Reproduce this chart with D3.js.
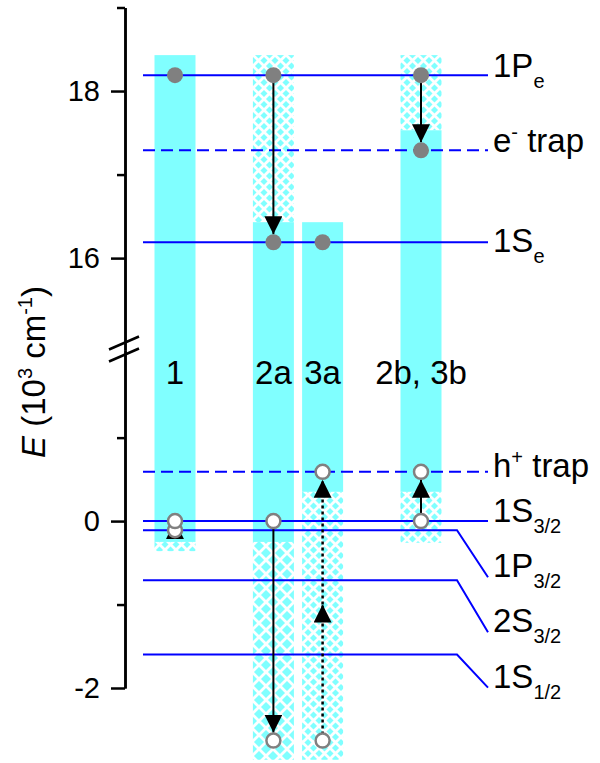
<!DOCTYPE html>
<html>
<head>
<meta charset="utf-8">
<title>levels</title>
<style>
  body { margin: 0; background: #fff; }
  svg text { font-family: "Liberation Sans", Arial, sans-serif; fill: black; }
  .axis path, .axis line { fill: none; stroke: black; stroke-width: 2.5; }
  .axis text { font-size: 29px; }
</style>
</head>
<body>
<script src="https://cdn.jsdelivr.net/npm/d3@7/dist/d3.min.js"></script>
<script>
// energy levels, 10^3 cm^-1  ("_" = subscript, "^" = superscript)
var levelNames = ["1P_e", "e^- trap", "1S_e", "h^+ trap", "1S_3/2", "1P_3/2", "2S_3/2", "1S_1/2"];
var levelValues = [18.19, 17.29, 16.19, 0.59, 0, -0.11, -0.71, -1.60];
var trapLevels = ["e^- trap", "h^+ trap"];

var columnLabels = ["1", "2a", "3a", "2b, 3b"];
var columnSlots = [0, 2, 3, 5];

// bar pieces per column
var barCols    = [0, 0, 1, 1, 1, 2, 2, 3, 3, 3];
var barTops    = [18.43, -0.25, 18.43, 16.43, -0.25, 16.43, 0.35, 18.43, 17.53, 0.35];
var barBottoms = [-0.25, -0.36, 16.43, -0.25, -2.86, 0.35, -2.86, 17.53, 0.35, -0.26];
var barKinds   = ["solid", "hatch", "hatch", "solid", "hatchWide", "solid", "hatch", "hatch", "solid", "hatch"];

var electronCols = [0, 1, 1, 2, 3, 3];
var electronValues = [18.19, 18.19, 16.19, 16.19, 18.19, 17.29];
var holeCols = [0, 0, 1, 1, 2, 2, 3, 3];
var holeValues = [-0.11, 0, 0, -2.63, 0.59, -2.63, 0.59, 0];

var arrowCols = [1, 3, 1, 2, 2, 3, 0];
var arrowFrom = [18.19, 18.19, 0, -2.63, -1.0, 0, -0.11];
var arrowTo   = [16.19, 17.29, -2.63, -1.0, 0.59, 0.59, 0];
var arrowDotted = [false, false, false, true, true, false, false];

var upperMajor = [16, 18], upperMinor = [17, 19];
var lowerMajor = [-2, 0], lowerMinor = [-1, 1];

// layout
var width = 600, height = 763;
var cyan = "#80ffff", blue = "#0000ff", grey = "#808080";
var lineX0 = 143, lineX1 = 488, bendX = 457, labelX = 493;
var labelDy = [2, 2, 10, 5, 1, 47, 52, 33];
var arrowGap = [8, 8, 8, 0, 8, 8, 0];

var svg = d3.select("body").append("svg")
  .attr("width", width).attr("height", height);

var yUp = d3.scaleLinear().domain([14.9, 19]).range([350, 7.5]);
var yLo = d3.scaleLinear().domain([-2, 2.05]).range([688, 350]);
function y(v) { return v > 8 ? yUp(v) : yLo(v); }
var x = d3.scaleLinear().domain([0, 5]).range([175, 421]);
var barW = 41;

var defs = svg.append("defs");
function hatch(id, p) {
  var pat = defs.append("pattern").attr("id", id)
    .attr("patternUnits", "userSpaceOnUse").attr("width", p).attr("height", p);
  pat.append("rect").attr("width", p).attr("height", p).attr("fill", cyan);
  pat.append("path")
    .attr("d", "M0,0L" + p + "," + p + "M" + p + ",0L0," + p)
    .attr("stroke", "white").attr("stroke-width", 2.8);
}
hatch("hatch", 11);
hatch("hatchWide", 14);
defs.append("marker").attr("id", "head")
  .attr("markerUnits", "userSpaceOnUse")
  .attr("markerWidth", 18).attr("markerHeight", 18)
  .attr("viewBox", "0 0 18 18").attr("refX", 18).attr("refY", 9)
  .attr("orient", "auto")
  .append("path").attr("d", "M0,0L18,9L0,18Z").attr("fill", "black");

// bars
svg.selectAll(".bar")
  .data(d3.range(barCols.length))
  .enter().append("rect")
  .attr("class", "bar")
  .attr("x", i => x(columnSlots[barCols[i]]) - barW / 2)
  .attr("y", i => y(barTops[i]))
  .attr("width", barW)
  .attr("height", i => y(barBottoms[i]) - y(barTops[i]))
  .attr("fill", i => barKinds[i] == "solid" ? cyan : "url(#" + barKinds[i] + ")");

// axes
function axisPart(scale, major, minor) {
  svg.append("g").attr("class", "axis").attr("transform", "translate(125,0)")
    .call(d3.axisLeft(scale).tickValues(minor).tickSize(8).tickSizeOuter(0).tickFormat(""));
  svg.append("g").attr("class", "axis").attr("transform", "translate(125,0)")
    .call(d3.axisLeft(scale).tickValues(major).tickSize(14).tickSizeOuter(0)
      .tickPadding(11).tickFormat(d => String(d)));
}
axisPart(yUp, upperMajor, upperMinor);
axisPart(yLo, lowerMajor, lowerMinor);

// break marks
[-6, 6].forEach(function(o) {
  svg.append("line")
    .attr("x1", 109).attr("y1", 349 + o + 6.5)
    .attr("x2", 139).attr("y2", 349 + o - 6.5)
    .attr("stroke", "black").attr("stroke-width", 2.5);
});

// axis title
var title = svg.append("text")
  .attr("transform", "translate(45,372) rotate(-90)")
  .attr("text-anchor", "middle").style("font-size", "33px");
title.append("tspan").style("font-style", "italic").text("E");
title.append("tspan").text(" (10");
title.append("tspan").attr("dy", -13).style("font-size", "20px").text("3");
title.append("tspan").attr("dy", 13).text(" cm");
title.append("tspan").attr("dy", -13).style("font-size", "20px").text("-1");
title.append("tspan").attr("dy", 13).text(")");

// level lines
svg.selectAll(".level")
  .data(d3.range(levelNames.length))
  .enter().append("path")
  .attr("class", "level")
  .attr("d", function(i) {
    var y0 = y(levelValues[i]);
    if (i >= 5) return "M" + lineX0 + "," + y0 + "H" + bendX + "L" + lineX1 + "," + (y0 + labelDy[i]);
    return "M" + lineX0 + "," + y0 + "H" + lineX1;
  })
  .attr("fill", "none").attr("stroke", blue).attr("stroke-width", 2)
  .attr("stroke-dasharray", i => trapLevels.indexOf(levelNames[i]) >= 0 ? "12,6" : null);

// level labels
levelNames.forEach(function(name, i) {
  var m = name.match(/^([^_^ ]+)(?:([_^])(\S+))?(.*)$/);
  var t = svg.append("text").attr("x", labelX)
    .attr("y", y(levelValues[i]) + labelDy[i]).style("font-size", "33px");
  t.append("tspan").text(m[1]);
  if (m[2]) {
    var dy = m[2] == "_" ? 11 : -13;
    t.append("tspan").attr("dy", dy).style("font-size", "20px").text(m[3]);
    if (m[4]) t.append("tspan").attr("dy", -dy).text(m[4]);
  }
});

// column labels
svg.selectAll(".collabel")
  .data(columnLabels)
  .enter().append("text")
  .attr("class", "collabel")
  .attr("x", (d, i) => x(columnSlots[i]))
  .attr("y", 384)
  .attr("text-anchor", "middle")
  .style("font-size", "33px")
  .text(d => d);

// arrows
svg.selectAll(".arrow")
  .data(d3.range(arrowCols.length))
  .enter().append("line")
  .attr("class", "arrow")
  .attr("x1", i => x(columnSlots[arrowCols[i]]))
  .attr("x2", i => x(columnSlots[arrowCols[i]]))
  .attr("y1", i => y(arrowFrom[i]))
  .attr("y2", function(i) {
    var a = y(arrowFrom[i]), b = y(arrowTo[i]);
    return b - Math.sign(b - a) * arrowGap[i];
  })
  .attr("stroke", "black")
  .attr("stroke-width", i => arrowDotted[i] ? 2.5 : 2)
  .attr("stroke-dasharray", i => arrowDotted[i] ? "3,3" : null)
  .attr("marker-end", "url(#head)");

// carriers
svg.selectAll(".electron")
  .data(d3.range(electronCols.length))
  .enter().append("circle")
  .attr("class", "electron")
  .attr("cx", i => x(columnSlots[electronCols[i]]))
  .attr("cy", i => y(electronValues[i]))
  .attr("r", 8).attr("fill", grey);

svg.selectAll(".hole")
  .data(d3.range(holeCols.length))
  .enter().append("circle")
  .attr("class", "hole")
  .attr("cx", i => x(columnSlots[holeCols[i]]))
  .attr("cy", i => y(holeValues[i]))
  .attr("r", 7).attr("fill", "white")
  .attr("stroke", grey).attr("stroke-width", 2.5);
</script>
</body>
</html>
